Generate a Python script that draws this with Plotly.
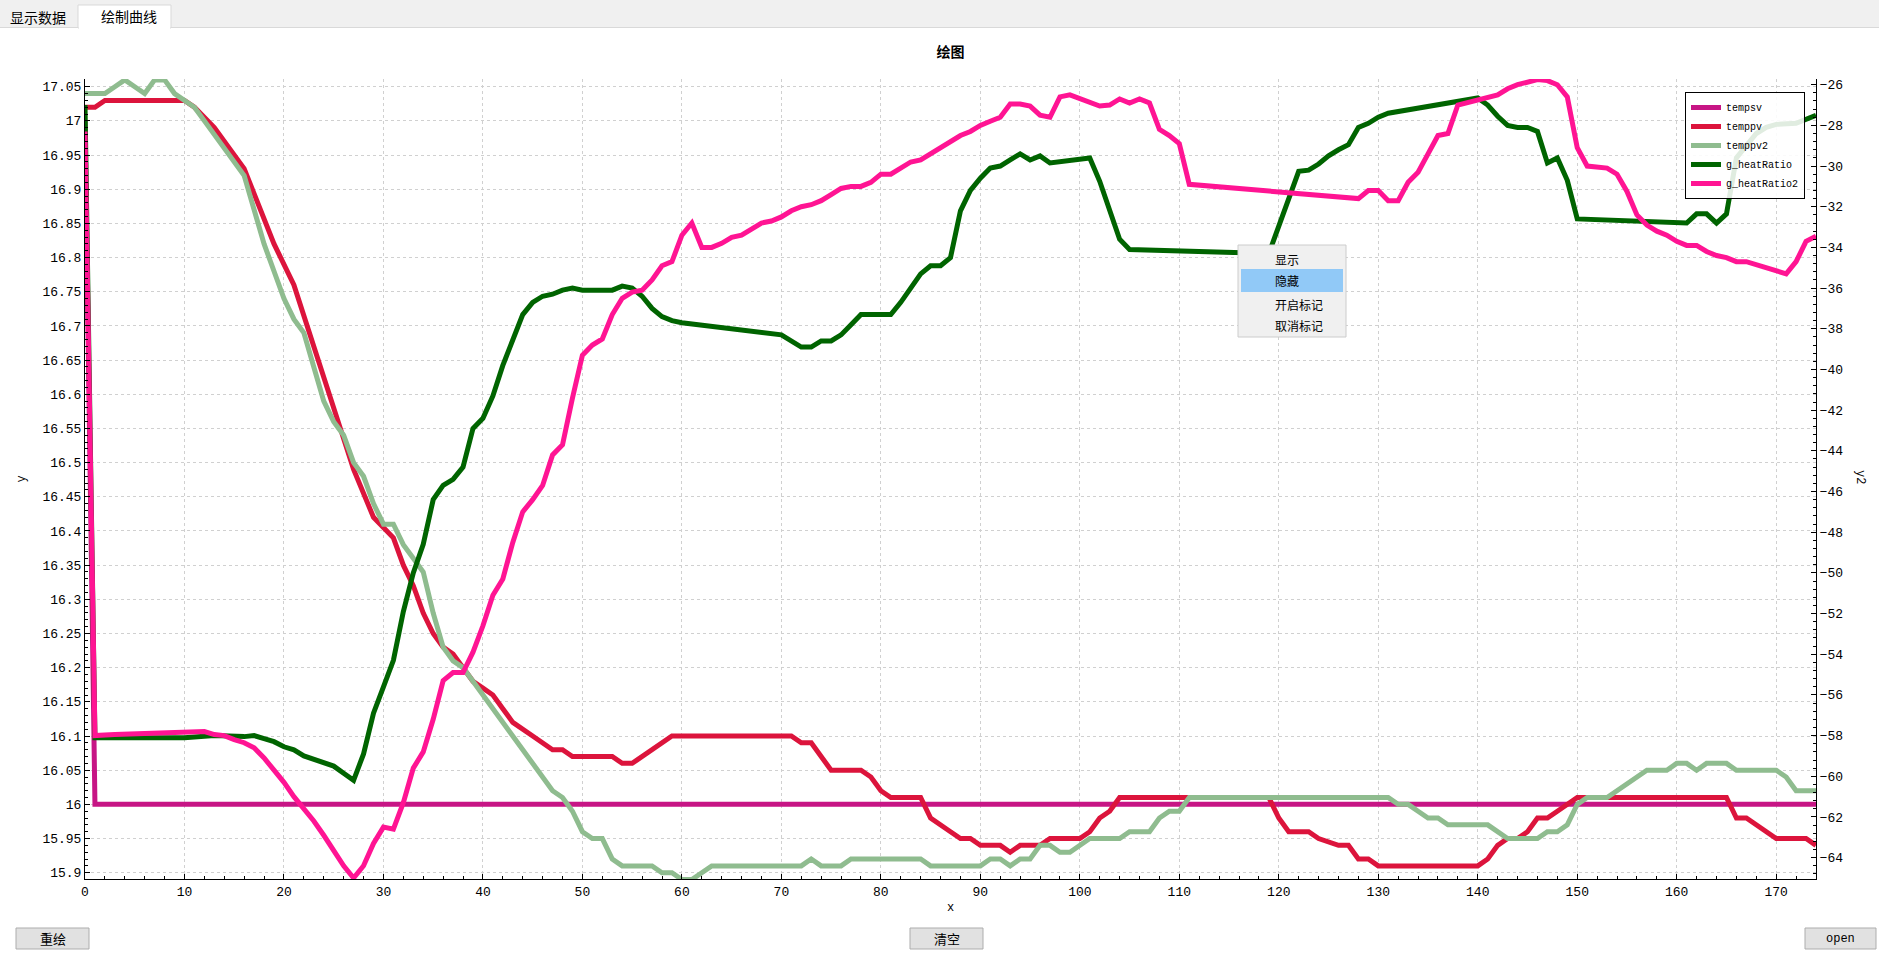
import plotly.graph_objects as go

# ---------------- data ----------------
tempsv_x = [0, 1, 174]
tempsv_y = [17.0, 16.0, 16.0]

temppv_x = [0, 1, 2, 10, 11, 13, 16, 19, 21, 23, 25, 27, 29, 31, 32, 33, 34, 35, 36, 37, 38, 39, 40,
            41, 42, 43, 45, 47, 48, 49, 53, 54, 55, 57, 59, 71, 72, 73, 75, 78, 79, 80, 81, 84, 85,
            87, 88, 89, 90, 92, 93, 94, 96, 97, 100, 101, 102, 103, 104, 119, 120, 121, 123, 124,
            126, 127, 128, 129, 130, 140, 141, 142, 143, 144, 145, 146, 147, 148, 149, 150, 165,
            166, 167, 168, 170, 173, 174]
temppv_y = [17.02, 17.02, 17.03, 17.03, 17.02, 16.99, 16.93, 16.82, 16.76, 16.67, 16.58, 16.49, 16.42,
            16.39, 16.35, 16.32, 16.28, 16.25, 16.23, 16.22, 16.20, 16.18, 16.17, 16.16, 16.14, 16.12,
            16.10, 16.08, 16.08, 16.07, 16.07, 16.06, 16.06, 16.08, 16.10, 16.10, 16.09, 16.09, 16.05,
            16.05, 16.04, 16.02, 16.01, 16.01, 15.98, 15.96, 15.95, 15.95, 15.94, 15.94, 15.93, 15.94,
            15.94, 15.95, 15.95, 15.96, 15.98, 15.99, 16.01, 16.01, 15.98, 15.96, 15.96, 15.95, 15.94,
            15.94, 15.92, 15.92, 15.91, 15.91, 15.92, 15.94, 15.95, 15.95, 15.96, 15.98, 15.98, 15.99,
            16.0, 16.01, 16.01, 15.98, 15.98, 15.97, 15.95, 15.95, 15.94]

temppv2_x = [0, 2, 3, 4, 5, 6, 7, 8, 9, 10, 11, 12, 13, 14, 15, 16, 17, 18, 19, 20, 21, 22, 23, 24,
             25, 26, 27, 28, 29, 30, 31, 32, 33, 34, 35, 36, 37, 38, 39, 40, 41, 42, 43, 44, 45, 46,
             47, 48, 49, 50, 51, 52, 53, 54, 57, 58, 59, 60, 61, 62, 63, 72, 73, 74, 76, 77, 84, 85,
             90, 91, 92, 93, 94, 95, 96, 97, 98, 99, 100, 101, 104, 105, 107, 108, 109, 110, 111, 131,
             132, 133, 134, 135, 136, 137, 141, 142, 143, 146, 147, 148, 149, 150, 151, 153, 154, 155,
             156, 157, 159, 160, 161, 162, 163, 165, 166, 170, 171, 172, 174]
temppv2_y = [17.04, 17.04, 17.05, 17.06, 17.05, 17.04, 17.06, 17.06, 17.04, 17.03, 17.02, 17.0, 16.98,
             16.96, 16.94, 16.92, 16.87, 16.82, 16.78, 16.74, 16.71, 16.69, 16.64, 16.59, 16.56, 16.54,
             16.50, 16.48, 16.44, 16.41, 16.41, 16.38, 16.36, 16.34, 16.28, 16.23, 16.21, 16.20, 16.18,
             16.16, 16.14, 16.12, 16.10, 16.08, 16.06, 16.04, 16.02, 16.01, 15.99, 15.96, 15.95, 15.95,
             15.92, 15.91, 15.91, 15.90, 15.90, 15.89, 15.89, 15.90, 15.91, 15.91, 15.92, 15.91, 15.91,
             15.92, 15.92, 15.91, 15.91, 15.92, 15.92, 15.91, 15.92, 15.92, 15.94, 15.94, 15.93, 15.93,
             15.94, 15.95, 15.95, 15.96, 15.96, 15.98, 15.99, 15.99, 16.01, 16.01, 16.0, 16.0, 15.99,
             15.98, 15.98, 15.97, 15.97, 15.96, 15.95, 15.95, 15.96, 15.96, 15.97, 16.0, 16.01, 16.01,
             16.02, 16.03, 16.04, 16.05, 16.05, 16.06, 16.06, 16.05, 16.06, 16.06, 16.05, 16.05, 16.04,
             16.02, 16.02]

heat_x = [0, 1, 10, 13, 16, 17, 18, 19, 20, 21, 22, 23, 24, 25, 26, 27, 28, 29, 30, 31, 32, 33, 34,
          35, 36, 37, 38, 39, 40, 41, 42, 43, 44, 45, 46, 47, 48, 49, 50, 53, 54, 55, 56, 57, 58, 59,
          60, 70, 71, 72, 73, 74, 75, 76, 77, 78, 81, 82, 83, 84, 85, 86, 87, 88, 89, 90, 91, 92, 93,
          94, 95, 96, 97, 98, 99, 100, 101, 102, 103, 104, 105, 119, 122, 123, 124, 125, 126, 127,
          128, 129, 130, 131, 140, 141, 142, 143, 144, 145, 146, 147, 148, 149, 150, 161, 162, 163,
          164, 165, 166, 167, 168, 169, 170, 172, 173, 174]
heat_y = [-27.0, -58.1, -58.1, -58.0, -58.05, -58.0, -58.15, -58.3, -58.55, -58.7, -59.0, -59.15,
          -59.3, -59.5, -59.85, -60.2, -58.9, -56.9, -55.6, -54.3, -51.9, -50.0, -48.6, -46.4, -45.7,
          -45.4, -44.8, -42.9, -42.4, -41.3, -39.8, -38.5, -37.3, -36.7, -36.4, -36.3, -36.1, -36.0,
          -36.1, -36.1, -35.9, -36.0, -36.4, -37.0, -37.4, -37.6, -37.7, -38.3, -38.6, -38.9, -38.9,
          -38.6, -38.6, -38.3, -37.8, -37.3, -37.3, -36.7, -36.0, -35.3, -34.9, -34.9, -34.5, -32.2,
          -31.2, -30.6, -30.1, -30.0, -29.7, -29.4, -29.7, -29.5, -29.85, -29.8, -29.75, -29.7, -29.6,
          -30.75, -32.2, -33.6, -34.1, -34.3, -30.26, -30.2, -29.9, -29.5, -29.2, -28.95, -28.1, -27.9,
          -27.6, -27.4, -26.65, -27.0, -27.55, -28.0, -28.1, -28.1, -28.3, -29.85, -29.6, -30.7, -32.6,
          -32.8, -32.35, -32.35, -32.8, -32.35, -29.6, -29.0, -28.4, -28.1, -27.95, -27.9, -27.7, -27.5]

heat2_x = [0, 1, 3, 8, 12, 13, 14, 15, 16, 17, 18, 19, 20, 21, 22, 23, 24, 25, 26, 27, 28, 29, 30, 31,
           32, 33, 34, 35, 36, 37, 38, 39, 40, 41, 42, 43, 44, 45, 46, 47, 48, 49, 50, 51, 52, 53, 54,
           55, 56, 57, 58, 59, 60, 61, 62, 63, 64, 65, 66, 67, 68, 69, 70, 71, 72, 73, 74, 75, 76, 77,
           78, 79, 80, 81, 82, 83, 84, 85, 86, 87, 88, 89, 90, 91, 92, 93, 94, 95, 96, 97, 98, 99, 100,
           101, 102, 103, 104, 105, 106, 107, 108, 109, 110, 111, 128, 129, 130, 131, 132, 133, 134,
           135, 136, 137, 138, 142, 143, 144, 145, 146, 147, 148, 149, 150, 151, 152, 153, 154, 155,
           156, 157, 158, 159, 160, 161, 162, 163, 164, 165, 166, 167, 171, 172, 173, 174]
heat2_y = [-28.3, -58.0, -57.95, -57.9, -57.8, -57.95, -58.0, -58.2, -58.35, -58.6, -59.1, -59.7,
           -60.3, -61.0, -61.6, -62.2, -62.9, -63.7, -64.4, -65.0, -64.4, -63.3, -62.5, -62.6, -61.3,
           -59.6, -58.8, -57.2, -55.3, -54.9, -54.9, -53.9, -52.6, -51.1, -50.3, -48.5, -47.0, -46.4,
           -45.7, -44.2, -43.7, -41.4, -39.3, -38.8, -38.5, -37.3, -36.5, -36.2, -36.1, -35.6, -34.9,
           -34.7, -33.4, -32.8, -34.0, -34.0, -33.8, -33.5, -33.4, -33.1, -32.8, -32.7, -32.5, -32.2,
           -32.0, -31.9, -31.7, -31.4, -31.1, -31.0, -31.0, -30.8, -30.4, -30.4, -30.1, -29.8, -29.7,
           -29.4, -29.1, -28.8, -28.5, -28.3, -28.0, -27.8, -27.6, -26.95, -26.95, -27.05, -27.5,
           -27.6, -26.6, -26.5, -26.7, -26.9, -27.05, -27.0, -26.7, -26.9, -26.7, -26.9, -28.2, -28.5,
           -28.9, -30.9, -31.6, -31.2, -31.2, -31.7, -31.7, -30.8, -30.3, -29.4, -28.5, -28.4, -27.0,
           -26.5, -26.2, -26.0, -25.85, -25.75, -25.8, -26.0, -26.6, -29.1, -30.0, -30.05, -30.1,
           -30.4, -31.25, -32.4, -32.9, -33.2, -33.4, -33.7, -33.9, -33.9, -34.2, -34.4, -34.5, -34.7,
           -34.7, -35.3, -34.7, -33.7, -33.45]

series_names = ["tempsv", "temppv", "temppv2", "g_heatRatio", "g_heatRatio2"]
series_colors = ["#C71585", "#DC143C", "#8FBC8F", "#006400", "#FF1493"]

# ---------------- layout helpers ----------------
W, H = 1879, 956
L, R, T, B = 85, 63, 79, 77
PW, PH = W - L - R, H - T - B


def px(x):
    return (x - L) / PW


def py(y):
    return (H - B - y) / PH


fig = go.Figure()
xs_list = [tempsv_x, temppv_x, temppv2_x, heat_x, heat2_x]
ys_list = [tempsv_y, temppv_y, temppv2_y, heat_y, heat2_y]
axes = ["y", "y", "y", "y2", "y2"]
for name, col, xs, ys, ax in zip(series_names, series_colors, xs_list, ys_list, axes):
    fig.add_trace(go.Scatter(x=xs, y=ys, mode="lines", name=name, yaxis=ax,
                             line=dict(color=col, width=5), cliponaxis=True))

mono = "Liberation Mono"
cjk = "Noto Sans CJK SC"

fig.update_layout(
    width=W, height=H,
    margin=dict(l=L, r=R, t=T, b=B),
    paper_bgcolor="white", plot_bgcolor="white",
    title=dict(text="<b>绘图</b>", x=px(950.5), xref="paper", xanchor="center",
               y=1 - 52 / H, yref="container", yanchor="middle",
               font=dict(family=cjk, size=14, color="black")),
    xaxis=dict(range=[0, 174], showline=True, linecolor="black", linewidth=1,
               ticks="inside", ticklen=5, tickcolor="black", dtick=10, tick0=0,
               minor=dict(ticks="inside", ticklen=3, dtick=2, tickcolor="black", showgrid=False),
               showgrid=True, gridcolor="#d0d0d0", griddash="dot", gridwidth=1,
               zeroline=False, mirror=False,
               tickfont=dict(family=mono, size=13, color="black"),
               title=dict(text="x", font=dict(family=mono, size=12, color="black"), standoff=4)),
    yaxis=dict(range=[15.8908, 17.0613], showline=True, linecolor="black", linewidth=1,
               ticks="inside", ticklen=5, tickcolor="black", dtick=0.05, tick0=15.9,
               minor=dict(ticks="inside", ticklen=3, dtick=0.01, tickcolor="black", showgrid=False),
               showgrid=True, gridcolor="#d0d0d0", griddash="dot", gridwidth=1,
               zeroline=False,
               tickfont=dict(family=mono, size=13, color="black"),
               title=dict(text="y", font=dict(family=mono, size=12, color="black"), standoff=14)),
    yaxis2=dict(range=[-65.05, -25.72], overlaying="y", side="right", anchor="x",
                showline=True, linecolor="black", linewidth=1,
                ticks="inside", ticklen=5, tickcolor="black", dtick=2, tick0=-64,
                minor=dict(ticks="inside", ticklen=3, dtick=0.4, tickcolor="black", showgrid=False),
                showgrid=False, zeroline=False,
                tickfont=dict(family=mono, size=13, color="black")),
    legend=dict(x=px(1805), xanchor="right", y=py(92), yanchor="top",
                bgcolor="rgba(255,255,255,0.88)", bordercolor="black", borderwidth=1,
                font=dict(family=mono, size=10, color="black"), itemwidth=30,
                tracegroupgap=0),
)

shapes = []
annotations = []


def rect(x0, y0, x1, y1, fill, line=None, lw=1):
    shapes.append(dict(type="rect", xref="paper", yref="paper",
                       x0=px(x0), x1=px(x1), y0=py(y1), y1=py(y0),
                       fillcolor=fill, line=dict(color=line or fill, width=lw if line else 0),
                       layer="above"))


def text(x, y, s, size=13, family=cjk, xanchor="center", color="black", angle=0):
    annotations.append(dict(x=px(x), y=py(y), xref="paper", yref="paper", text=s,
                            showarrow=False, xanchor=xanchor, yanchor="middle",
                            textangle=angle, font=dict(family=family, size=size, color=color)))


# tab bar
rect(0, 0, W, 27, "#f0f0f0")
shapes.append(dict(type="line", xref="paper", yref="paper", x0=px(0), x1=px(W),
                   y0=py(27.5), y1=py(27.5), line=dict(color="#d9d9d9", width=1)))
rect(78, 5, 171, 28, "white", "#d9d9d9")
rect(79, 27, 170, 29, "white")
text(38, 17, "显示数据", size=14)
text(129, 16, "绘制曲线", size=14)

# y2 title
text(1860, 477, "y2", size=12, family=mono, angle=90)

# context menu
rect(1238, 245, 1346, 337, "#f0f0f0", "#cccccc")
rect(1241, 269, 1343, 292, "#91c9f7")
for ty, s in zip([259, 281, 304, 325], ["显示", "隐藏", "开启标记", "取消标记"]):
    text(1273, ty, s, size=12, xanchor="left")

# buttons
for (bx0, bx1, label, fam) in [(16, 89, "重绘", cjk), (910, 983, "清空", cjk), (1805, 1876, "open", mono)]:
    rect(bx0, 928, bx1, 949, "#e1e1e1", "#adadad")
    text((bx0 + bx1) / 2, 938.5, label, size=13 if fam == cjk else 12, family=fam)

fig.update_layout(shapes=shapes, annotations=annotations)
fig.write_html("out.html")
